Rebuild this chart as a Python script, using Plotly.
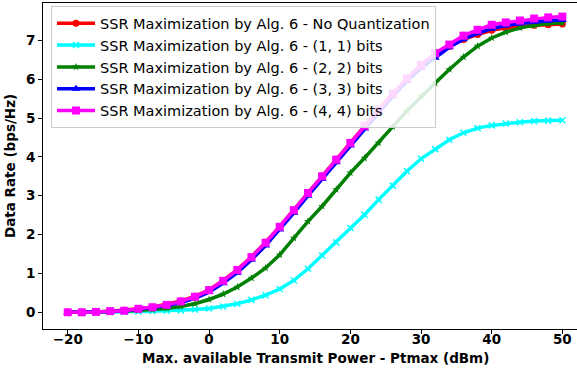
import plotly.graph_objects as go

# Transmit power sweep (dBm)
ptmax = list(range(-20, 51, 2))

# Achieved secrecy sum rate (bps/Hz) per quantization setting
rate_no_quant = [0.00, 0.00, 0.01, 0.03, 0.05, 0.09, 0.13, 0.20, 0.29, 0.41, 0.58, 0.82, 1.10,
                 1.43, 1.80, 2.21, 2.64, 3.08, 3.51, 3.94, 4.37, 4.81, 5.22, 5.62, 6.00,
                 6.33, 6.60, 6.84, 7.02, 7.15, 7.26, 7.32, 7.36, 7.39, 7.40, 7.42]
rate_1bit = [0.00, 0.00, 0.00, 0.01, 0.01, 0.02, 0.03, 0.04, 0.05, 0.07, 0.10, 0.15, 0.22,
             0.32, 0.44, 0.60, 0.82, 1.12, 1.46, 1.80, 2.17, 2.51, 2.90, 3.26, 3.63,
             3.95, 4.20, 4.44, 4.62, 4.74, 4.81, 4.86, 4.89, 4.92, 4.93, 4.94]
rate_2bit = [0.00, 0.00, 0.01, 0.02, 0.03, 0.05, 0.07, 0.10, 0.15, 0.22, 0.33, 0.47, 0.65,
             0.88, 1.14, 1.48, 1.91, 2.34, 2.73, 3.16, 3.59, 3.97, 4.36, 4.78, 5.18,
             5.55, 5.90, 6.25, 6.57, 6.85, 7.06, 7.21, 7.32, 7.38, 7.43, 7.45]
rate_3bit = [0.00, 0.00, 0.01, 0.02, 0.04, 0.08, 0.11, 0.17, 0.25, 0.36, 0.52, 0.75, 1.02,
             1.35, 1.72, 2.13, 2.56, 3.00, 3.43, 3.86, 4.29, 4.73, 5.15, 5.56, 5.95,
             6.29, 6.55, 6.82, 7.03, 7.18, 7.30, 7.38, 7.43, 7.47, 7.50, 7.52]
rate_4bit = [0.00, 0.00, 0.01, 0.03, 0.04, 0.09, 0.13, 0.19, 0.28, 0.40, 0.57, 0.81, 1.09,
             1.42, 1.79, 2.20, 2.63, 3.07, 3.50, 3.93, 4.36, 4.80, 5.22, 5.63, 6.02,
             6.37, 6.67, 6.89, 7.12, 7.27, 7.40, 7.46, 7.51, 7.56, 7.59, 7.61]

series = [
    ("SSR Maximization by Alg. 6 - No Quantization", rate_no_quant, "#ff0000", "circle", 7),
    ("SSR Maximization by Alg. 6 - (1, 1) bits", rate_1bit, "#00ffff", "x-thin", 6),
    ("SSR Maximization by Alg. 6 - (2, 2) bits", rate_2bit, "#008000", "star", 6),
    ("SSR Maximization by Alg. 6 - (3, 3) bits", rate_3bit, "#0000ff", "triangle-up", 8),
    ("SSR Maximization by Alg. 6 - (4, 4) bits", rate_4bit, "#ff00ff", "square", 8),
]

FONT = "DejaVu Sans"

fig = go.Figure()
for i, (name, vals, color, symbol, msize) in enumerate(series):
    fig.add_trace(go.Scatter(
        x=ptmax, y=vals, name=name, mode="lines+markers",
        legendgroup=f"g{i}",
        line=dict(color=color, width=3.5),
        marker=dict(color=color, symbol=symbol, size=msize,
                    line=dict(color=color, width=1.5 if symbol == "x-thin" else 0)),
    ))

axis_common = dict(
    showline=True, linecolor="black", linewidth=1,
    ticks="outside", ticklen=4, tickcolor="black", tickwidth=1,
    showgrid=False, zeroline=False,
    tickfont=dict(family=FONT, size=13.5, color="black", weight="bold"),
)

fig.update_layout(
    width=577, height=371,
    margin=dict(l=43, r=0, t=3, b=42),
    plot_bgcolor="white", paper_bgcolor="white",
    xaxis=dict(range=[-23.5, 52.07], tickvals=[-20, -10, 0, 10, 20, 30, 40, 50],
               mirror=True, ticklabelstandoff=-6, **axis_common),
    yaxis=dict(range=[-0.43, 7.96], tickvals=[0, 1, 2, 3, 4, 5, 6, 7], **axis_common),
    legend=dict(
        x=0.015, y=0.99, xanchor="left", yanchor="top",
        bgcolor="rgba(255,255,255,0.85)", bordercolor="#cccccc", borderwidth=1,
        font=dict(family=FONT, size=14.5, color="black"),
        traceorder="grouped", tracegroupgap=0, itemwidth=38,
    ),
    showlegend=True,
    annotations=[
        dict(text="<b>Max. available Transmit Power - Ptmax (dBm)</b>", xref="paper", yref="paper",
             x=0.51, y=0, yshift=-29, xanchor="center", yanchor="middle", showarrow=False,
             font=dict(family=FONT, size=13.5, color="black")),
        dict(text="<b>Data Rate (bps/Hz)</b>", xref="paper", yref="paper",
             x=0, y=0.5, xshift=-33, xanchor="center", yanchor="middle", textangle=-90,
             showarrow=False, font=dict(family=FONT, size=13.5, color="black")),
    ],
)

fig.write_html("out.html")
